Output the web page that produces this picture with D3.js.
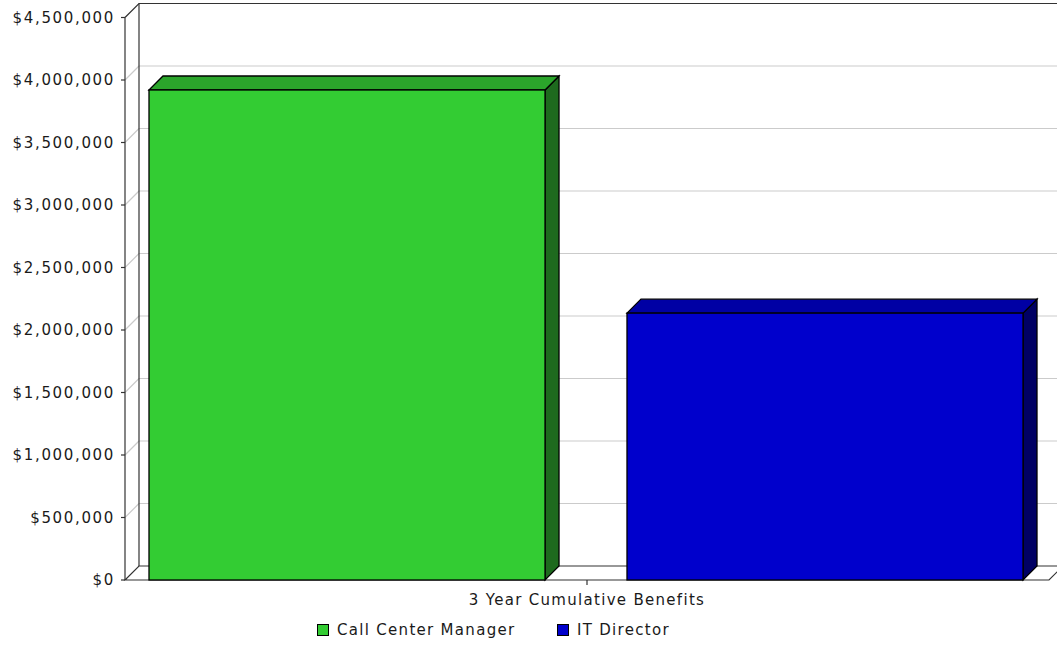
<!DOCTYPE html>
<html>
<head>
<meta charset="utf-8">
<script src="https://cdn.jsdelivr.net/npm/d3@7/dist/d3.min.js"></script>
<style>
  html, body { margin: 0; padding: 0; background: #fff; }
  svg { display: block; }
  text { font-family: "DejaVu Sans", sans-serif; font-size: 15px; fill: #1a1a1a; letter-spacing: 1.3px; }
  text.tick-label { letter-spacing: 1.65px; }
</style>
</head>
<body>
<svg id="chart" width="1057" height="646"></svg>
<script>
// Chart data
const categories = ["3 Year Cumulative Benefits"];
const seriesNames = ["Call Center Manager", "IT Director"];
const seriesValues = [3920000, 2135000];
const seriesColors = ["#33cc33", "#0000cc"];
const topColors = ["#2ba52b", "#0000a4"];
const sideColors = ["#1e6a1e", "#000064"];
const yTicks = [0, 500000, 1000000, 1500000, 2000000, 2500000, 3000000, 3500000, 4000000, 4500000];

(function () {
  const svg = d3.select("#chart");

  // Depth of the 3D effect
  const DX = 14, DY = 14;
  const plotLeft = 125, plotRight = 1049, plotBottom = 580, plotTop = 17.5;

  const y = d3.scaleLinear().domain([0, 4500000]).range([plotBottom, plotTop]);
  const x = d3.scaleBand().domain(seriesNames).range([plotLeft, 1047])
    .paddingInner(0.1715).paddingOuter(0.0502);

  const fmt = v => "$" + d3.format(",")(v);
  const pts = a => a.map(p => p.join(",")).join(" ");

  // Back wall
  svg.append("polygon")
    .attr("points", pts([[plotLeft + DX, plotTop - DY], [plotRight + DX, plotTop - DY], [plotRight + DX, plotBottom - DY], [plotLeft + DX, plotBottom - DY]]))
    .attr("fill", "#fff").attr("stroke", "none");

  // Gridlines on the back wall, with connectors across the left wall
  const grid = svg.append("g");
  yTicks.filter(t => t > 0 && t < 4500000).forEach(t => {
    grid.append("line")
      .attr("x1", plotLeft + DX).attr("x2", plotRight + DX)
      .attr("y1", y(t) - DY).attr("y2", y(t) - DY)
      .attr("stroke", "#cbcbcb").attr("stroke-width", 1.2);
    grid.append("line")
      .attr("x1", plotLeft).attr("x2", plotLeft + DX)
      .attr("y1", y(t)).attr("y2", y(t) - DY)
      .attr("stroke", "#cbcbcb").attr("stroke-width", 1.2);
  });

  // Wall outlines
  const wallStroke = "#333";
  svg.append("polyline")
    .attr("points", pts([[plotLeft, plotTop], [plotLeft + DX, plotTop - DY], [plotRight + DX + 40, plotTop - DY]]))
    .attr("fill", "none").attr("stroke", wallStroke).attr("stroke-width", 1.2);
  svg.append("line")
    .attr("x1", plotLeft + DX).attr("x2", plotLeft + DX)
    .attr("y1", plotTop - DY).attr("y2", plotBottom - DY)
    .attr("stroke", wallStroke).attr("stroke-width", 1.2);

  // Floor
  svg.append("polygon")
    .attr("points", pts([[plotLeft, plotBottom], [plotRight, plotBottom], [plotRight + DX, plotBottom - DY], [plotLeft + DX, plotBottom - DY]]))
    .attr("fill", "#fff").attr("stroke", wallStroke).attr("stroke-width", 1.2);

  // Bars
  const bars = svg.append("g");
  seriesNames.forEach((name, i) => {
    const x0 = x(name), x1 = x0 + x.bandwidth();
    const yv = y(seriesValues[i]), y0 = y(0);
    const g = bars.append("g").attr("stroke", "#000").attr("stroke-width", 1.3).attr("stroke-linejoin", "miter");
    g.append("polygon")
      .attr("points", pts([[x1, yv], [x1 + DX, yv - DY], [x1 + DX, y0 - DY], [x1, y0]]))
      .attr("fill", sideColors[i]);
    g.append("polygon")
      .attr("points", pts([[x0, yv], [x0 + DX, yv - DY], [x1 + DX, yv - DY], [x1, yv]]))
      .attr("fill", topColors[i]);
    g.append("rect")
      .attr("x", x0).attr("y", yv)
      .attr("width", x1 - x0).attr("height", y0 - yv)
      .attr("fill", seriesColors[i]);
  });

  // Value axis
  const axis = svg.append("g");
  axis.append("line")
    .attr("x1", plotLeft).attr("x2", plotLeft).attr("y1", plotTop).attr("y2", plotBottom)
    .attr("stroke", wallStroke).attr("stroke-width", 1.2);
  yTicks.forEach(t => {
    axis.append("line")
      .attr("x1", plotLeft - 4).attr("x2", plotLeft).attr("y1", y(t)).attr("y2", y(t))
      .attr("stroke", wallStroke).attr("stroke-width", 1.2);
    axis.append("text")
      .attr("class", "tick-label")
      .attr("x", 115).attr("y", y(t)).attr("dy", "0.36em")
      .attr("text-anchor", "end").text(fmt(t));
  });

  // Category axis
  const cx = (plotLeft + plotRight) / 2;
  svg.append("line")
    .attr("x1", cx).attr("x2", cx).attr("y1", plotBottom).attr("y2", plotBottom + 5)
    .attr("stroke", wallStroke).attr("stroke-width", 1.2);
  svg.append("text")
    .attr("x", cx).attr("y", 600).attr("dy", "0.36em")
    .attr("text-anchor", "middle").text(categories[0]);

  // Legend
  const legendX = [317, 557];
  seriesNames.forEach((name, i) => {
    svg.append("rect")
      .attr("x", legendX[i] + 0.5).attr("y", 624.5).attr("width", 11).attr("height", 11)
      .attr("fill", seriesColors[i]).attr("stroke", "#000").attr("stroke-width", 1);
    svg.append("text")
      .attr("x", legendX[i] + 20).attr("y", 630).attr("dy", "0.36em")
      .text(name);
  });
})();
</script>
</body>
</html>
